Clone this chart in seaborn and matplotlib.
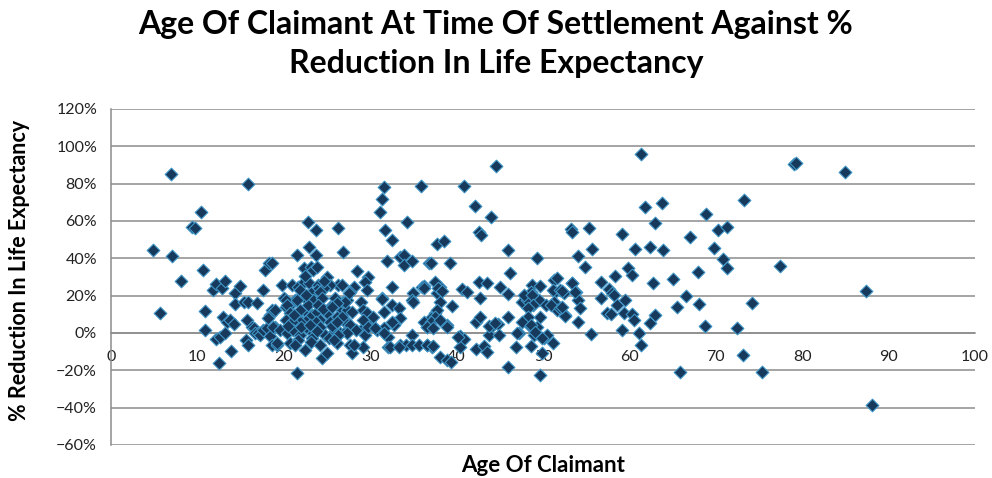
import matplotlib
matplotlib.use('Agg')
import matplotlib.pyplot as plt
from matplotlib.ticker import PercentFormatter, MultipleLocator
import seaborn as sns
import pandas as pd

# age of claimant (years) and % reduction in life expectancy
age_under20 = [4.9, 5.7, 7.0, 7.1, 8.1, 9.4, 9.7, 10.4, 10.6, 10.9,
               10.9, 11.8, 12.1, 12.9, 13.2, 12.2, 12.6, 13.2, 12.5, 13.9,
               13.0, 13.4, 13.8, 14.2, 14.4, 14.9, 14.3, 15.4, 15.9, 16.9,
               15.7, 16.3, 16.5, 16.7, 15.6, 15.9, 15.9, 17.6, 17.8, 18.3,
               18.6, 17.0, 17.3, 17.6, 18.0, 18.4, 18.6, 18.4, 18.2, 19.0,
               18.6, 19.2, 18.8, 19.6, 19.0, 19.8]
red_under20 = [44.5, 10.9, 85, 41, 28, 57, 56, 65, 34, 12,
               1.6, 23, 26, 24, 28, -3.4, -2.3, 0, -15.9, -9.5,
               8.7, 6.1, 7, 4.8, 21.3, 25.2, 15.5, 16.8, 16.8, 16.2,
               7, 3.4, 2.5, 0, -3.8, -6.4, 80, 23, 33.8, 37.3,
               37.7, 0.2, -1.1, 1.6, 2.5, -1.6, 12.3, 9.6, 7.9, 3.4,
               -6.4, -6.4, 3.4, 1.6, 12.3, 25.7]

age_20s = [20.9, 21.5, 22.8, 23.7, 22.9, 23.7, 26.3, 26.8, 22.3, 23.1,
           23.4, 23.8, 25.0, 26.3, 25.4, 21.7, 22.3, 22.9, 24.0, 23.8,
           24.6, 20.0, 20.2, 20.9, 21.3, 22.3, 23.1, 23.4, 24.2, 24.4,
           20.2, 20.4, 21.5, 25.4, 26.5, 26.9, 25.9, 20.7, 21.5, 22.3,
           22.7, 23.3, 23.8, 24.2, 25.0, 26.2, 27.1, 20.2, 21.9, 22.8,
           23.7, 24.0, 21.9, 25.4, 21.0, 21.9, 20.4, 21.1, 21.9, 22.7,
           23.4, 24.2, 24.8, 25.8, 26.5, 27.3, 23.3, 19.2, 20.7, 21.7,
           23.1, 24.2, 25.2, 26.2, 21.3, 22.5, 24.4, 25.0, 21.5,
           22.0, 23.0, 24.5, 21.2, 22.6, 23.9, 25.6, 20.5, 22.4, 24.7]
red_20s = [25.7, 42, 59.6, 55, 46, 42, 56, 43.6, 34.7, 35.5,
           33.8, 35.5, 30.2, 25.7, 25.7, 24.8, 27.5, 26.6, 25.7, 23,
           24, 18.6, 14.1, 15.9, 17.7, 19.5, 21.3, 17.7, 22.1, 18.6,
           17.7, 15, 17.7, 14.1, 13.2, 16.8, 18.8, 10.6, 8.7, 12.3,
           7, 9.6, 11.4, 7, 10.6, 8.7, 7, 7, 5.9, 15,
           5.9, 15, 12.3, 5.9, 5.9, 23, 0, 1.6, -1.1, 2.5,
           0, 3.4, -1.1, 0.7, 0, 1.6, -2.7, -5.5, -5.5, -3.8,
           -4.7, -6.4, -2.8, -5.5, -6.4, -9.1, -13.6, -10.6, -21.6,
           3.0, 4.5, 12.8, 9.8, 20.2, 1.0, 4.0, 3.8, 30.5, 28.0]

age_30s = [31.7, 32.5, 34.3, 31.1, 31.4, 31.6, 35.9, 32.0, 33.5, 33.9,
           33.9, 34.8, 36.8, 28.5, 29.8, 29.4, 29.6, 28.1, 27.7, 27.3,
           26.7, 32.5, 31.4, 31.6, 32.5, 33.3, 33.5, 32.7, 35.0, 36.0,
           34.8, 28.9, 29.2, 29.6, 30.0, 27.3, 27.9, 26.9, 27.7, 28.9,
           29.4, 30.4, 30.8, 31.6, 32.1, 27.7, 27.9, 29.2, 33.5, 34.1,
           34.8, 34.8, 35.6, 36.6, 36.6, 32.1, 27.5, 27.1, 26.1, 25.6,
           30.3, 29.2, 29.8, 26.7, 26.2, 27.7, 28.3, 27.3, 26.3, 25.8,
           28.1, 30.6, 31.6, 32.3, 33.3, 37.2, 31.4, 32.7, 32.5, 35.0,
           36.2, 37.7, 37.5, 37.0, 36.2, 38.9, 38.1]
red_30s = [55.2, 49.8, 59.6, 65, 72, 78, 79, 38.7, 40.9, 41.8,
           36.4, 38.7, 37.3, 33.4, 30.2, 27.5, 23, 24.8, 22.1, 17.7,
           25.7, 24.8, 18.6, 11.4, 15, 13.2, 7.9, 5.2, 21.3, 24.8,
           17.7, 16.8, 12.3, 10.6, 7, 12.3, 11.4, 7, 3.4, 1.6,
           -1.1, 3.4, 1.6, 2.5, -2, -6.4, -10.9, -7.3, -6.4, -6.4,
           -1.1, -6.4, -6.4, -6.4, 3.4, -7.3, 21.3, 16.8, 15.9, 14.1,
           8.7, 7, 3.4, 8.7, 6.1, 4.3, 1.6, 0, -1.1, -3.8,
           -6.4, 2.5, 0, -7.3, -7.3, -7.3, 18, 4.3, 6.1, 16.8,
           25.2, 21.3, 10.6, 7.9, 6.1, 4.3, 24.5]

age_40s = [37.7, 38.5, 37.0, 39.2, 40.8, 42.1, 42.6, 42.8, 44.0, 44.6,
           45.9, 46.2, 49.3, 53.2, 53.3, 54.1, 36.2, 37.5, 37.9, 38.3,
           38.1, 39.5, 40.6, 41.2, 42.6, 43.5, 42.7, 45.0, 45.9, 48.7,
           48.6, 47.6, 48.2, 49.1, 49.5, 50.3, 51.4, 51.3, 51.6, 37.7,
           37.5, 37.0, 36.6, 37.3, 38.1, 38.9, 42.2, 42.7, 44.0, 44.8,
           45.9, 47.2, 48.4, 49.3, 49.7, 40.4, 40.8, 43.8, 44.9, 49.0,
           50.1, 50.5, 36.6, 37.3, 40.4, 42.3, 43.2, 43.5, 46.9, 48.6,
           38.1, 38.9, 39.3, 49.9, 45.9, 49.6, 40.2, 43.7, 44.5, 47.0,
           47.8, 49.7, 48.7, 48.9, 48.3, 48.3, 47.6, 48.6, 49.9, 51.1,
           49.1, 51.3, 51.1, 51.6, 52.0, 52.4, 53.4, 53.8, 54.1, 50.9,
           52.0, 52.6, 54.1, 54.3, 52.6, 52.2, 55.6, 54.9]
red_40s = [47.7, 49.5, 37.7, 37.7, 78.5, 68, 54.3, 52.5, 62, 89.7,
           44.5, 32, 40, 55.6, 54, 41, 24.3, 27.5, 24, 22.7,
           16.8, 14.5, 23.4, 22.1, 27.5, 26.6, 18.6, 24.8, 20.9, 25.7,
           22.1, 16.8, 17.7, 19.5, 17.7, 15, 22.1, 16.8, 12.3, 12.3,
           8.7, 6.1, 3.4, 2.5, 7, 3.4, 6.1, 8.7, 3.4, 4.8,
           8.7, 0, 4.3, 3.4, 8.7, -1.6, -3.4, -1.1, -1.1, -1.1,
           -2.8, -1.1, -6.4, -7, -7.3, -8.7, -7, -10, -7.3, -7,
           -12.7, -14.5, -15.4, -10.9, -18, -22.5, -2, 3.8, 5.2, 0.2,
           20.4, 25.2, 20.4, 15, 13.2, 8.7, 6.1, 4.3, -2.8, -5.5,
           0.7, 28.4, 23, 29.3, 23, 21.3, 26.6, 22.1, 17.7, 15,
           13.2, 9.6, 6.1, 13.2, 9.1, 14, -0.7, 35.5]

age_older = [55.3, 55.7, 59.1, 60.6, 62.4, 63.9, 61.3, 61.8, 63.8, 63.0,
             68.9, 67.0, 70.3, 71.3, 73.3, 69.8, 70.8, 71.3, 59.8, 60.3,
             77.4, 56.7, 58.3, 53.3, 52.2, 53.7, 57.6, 58.0, 62.7, 65.0,
             67.9, 66.6, 58.2, 56.7, 58.6, 59.5, 57.4, 57.9, 59.4, 60.3,
             60.5, 59.2, 65.5, 68.0, 62.4, 63.0, 61.1, 61.3, 68.7, 72.4,
             74.2, 73.1, 65.9, 75.3, 79.1, 79.3, 85.0, 87.4, 88.1]
red_older = [56, 45, 53, 45, 46, 44.5, 96, 67.7, 69.5, 59,
             64, 51.6, 55, 57, 71, 45.7, 39.5, 35, 34.7, 31,
             36, 27.5, 30.7, 27, 22.7, 22, 23.4, 21.6, 26.6, 28.8,
             32.9, 19.8, 20.4, 18.6, 15, 17.7, 10.6, 10.2, 10.6, 10,
             7, 1.6, 13.8, 15.5, 5.2, 9.6, -0.2, -6.4, 3.8, 2.5,
             16.2, -12, -20.7, -20.7, 90.6, 91.3, 86.4, 22.7, -38.6]

df = pd.DataFrame({
    'age': age_under20 + age_20s + age_30s + age_40s + age_older,
    'reduction': red_under20 + red_20s + red_30s + red_40s + red_older,
})

sns.set_style('white')
plt.rcParams['font.family'] = ['Lato', 'DejaVu Sans']

fig = plt.figure(figsize=(9.92, 4.78), dpi=100)
ax = fig.add_axes([111 / 992, 33 / 478, 864 / 992, 336 / 478])

sns.scatterplot(data=df, x='age', y='reduction', marker='D', s=42,
                color='#17395c', edgecolor='#3f95c6', linewidth=0.8, ax=ax, zorder=3)

ax.set_xlim(0, 100)
ax.set_ylim(-60, 120)
ax.xaxis.set_major_locator(MultipleLocator(10))
ax.yaxis.set_major_locator(MultipleLocator(20))
ax.yaxis.set_major_formatter(PercentFormatter(100, decimals=0))

ax.grid(axis='y', color='#8c8c8c', linewidth=1.1)
ax.grid(axis='x', visible=False)
for s in ['top', 'right']:
    ax.spines[s].set_visible(False)
ax.spines['left'].set_color('#8c8c8c')
ax.spines['left'].set_linewidth(1.1)
ax.spines['bottom'].set_position(('data', 0))
ax.spines['bottom'].set_color('#8c8c8c')
ax.spines['bottom'].set_linewidth(1.1)
ax.tick_params(axis='x', direction='out', length=5, width=1, color='#8c8c8c',
               labelsize=11.5, labelcolor='#222222', pad=7)
ax.tick_params(axis='y', length=0, labelsize=11.5, labelcolor='#222222', pad=10)

ax.set_xlabel('')
ax.set_ylabel('')
fig.text(543 / 992, 1 - 466 / 478, 'Age Of Claimant', ha='center', va='center',
         fontsize=16, fontweight='bold', color='black')
fig.text(20 / 992, 1 - 270 / 478, '% Reduction In Life Expectancy', ha='center', va='center',
         rotation=90, fontsize=15.5, fontweight='bold', color='black')
fig.text(0.5, 1 - 44 / 478, 'Age Of Claimant At Time Of Settlement Against %\nReduction In Life Expectancy',
         ha='center', va='center', fontsize=23, fontweight='bold', color='black', linespacing=1.4)

fig.savefig('out.png', dpi=100)
